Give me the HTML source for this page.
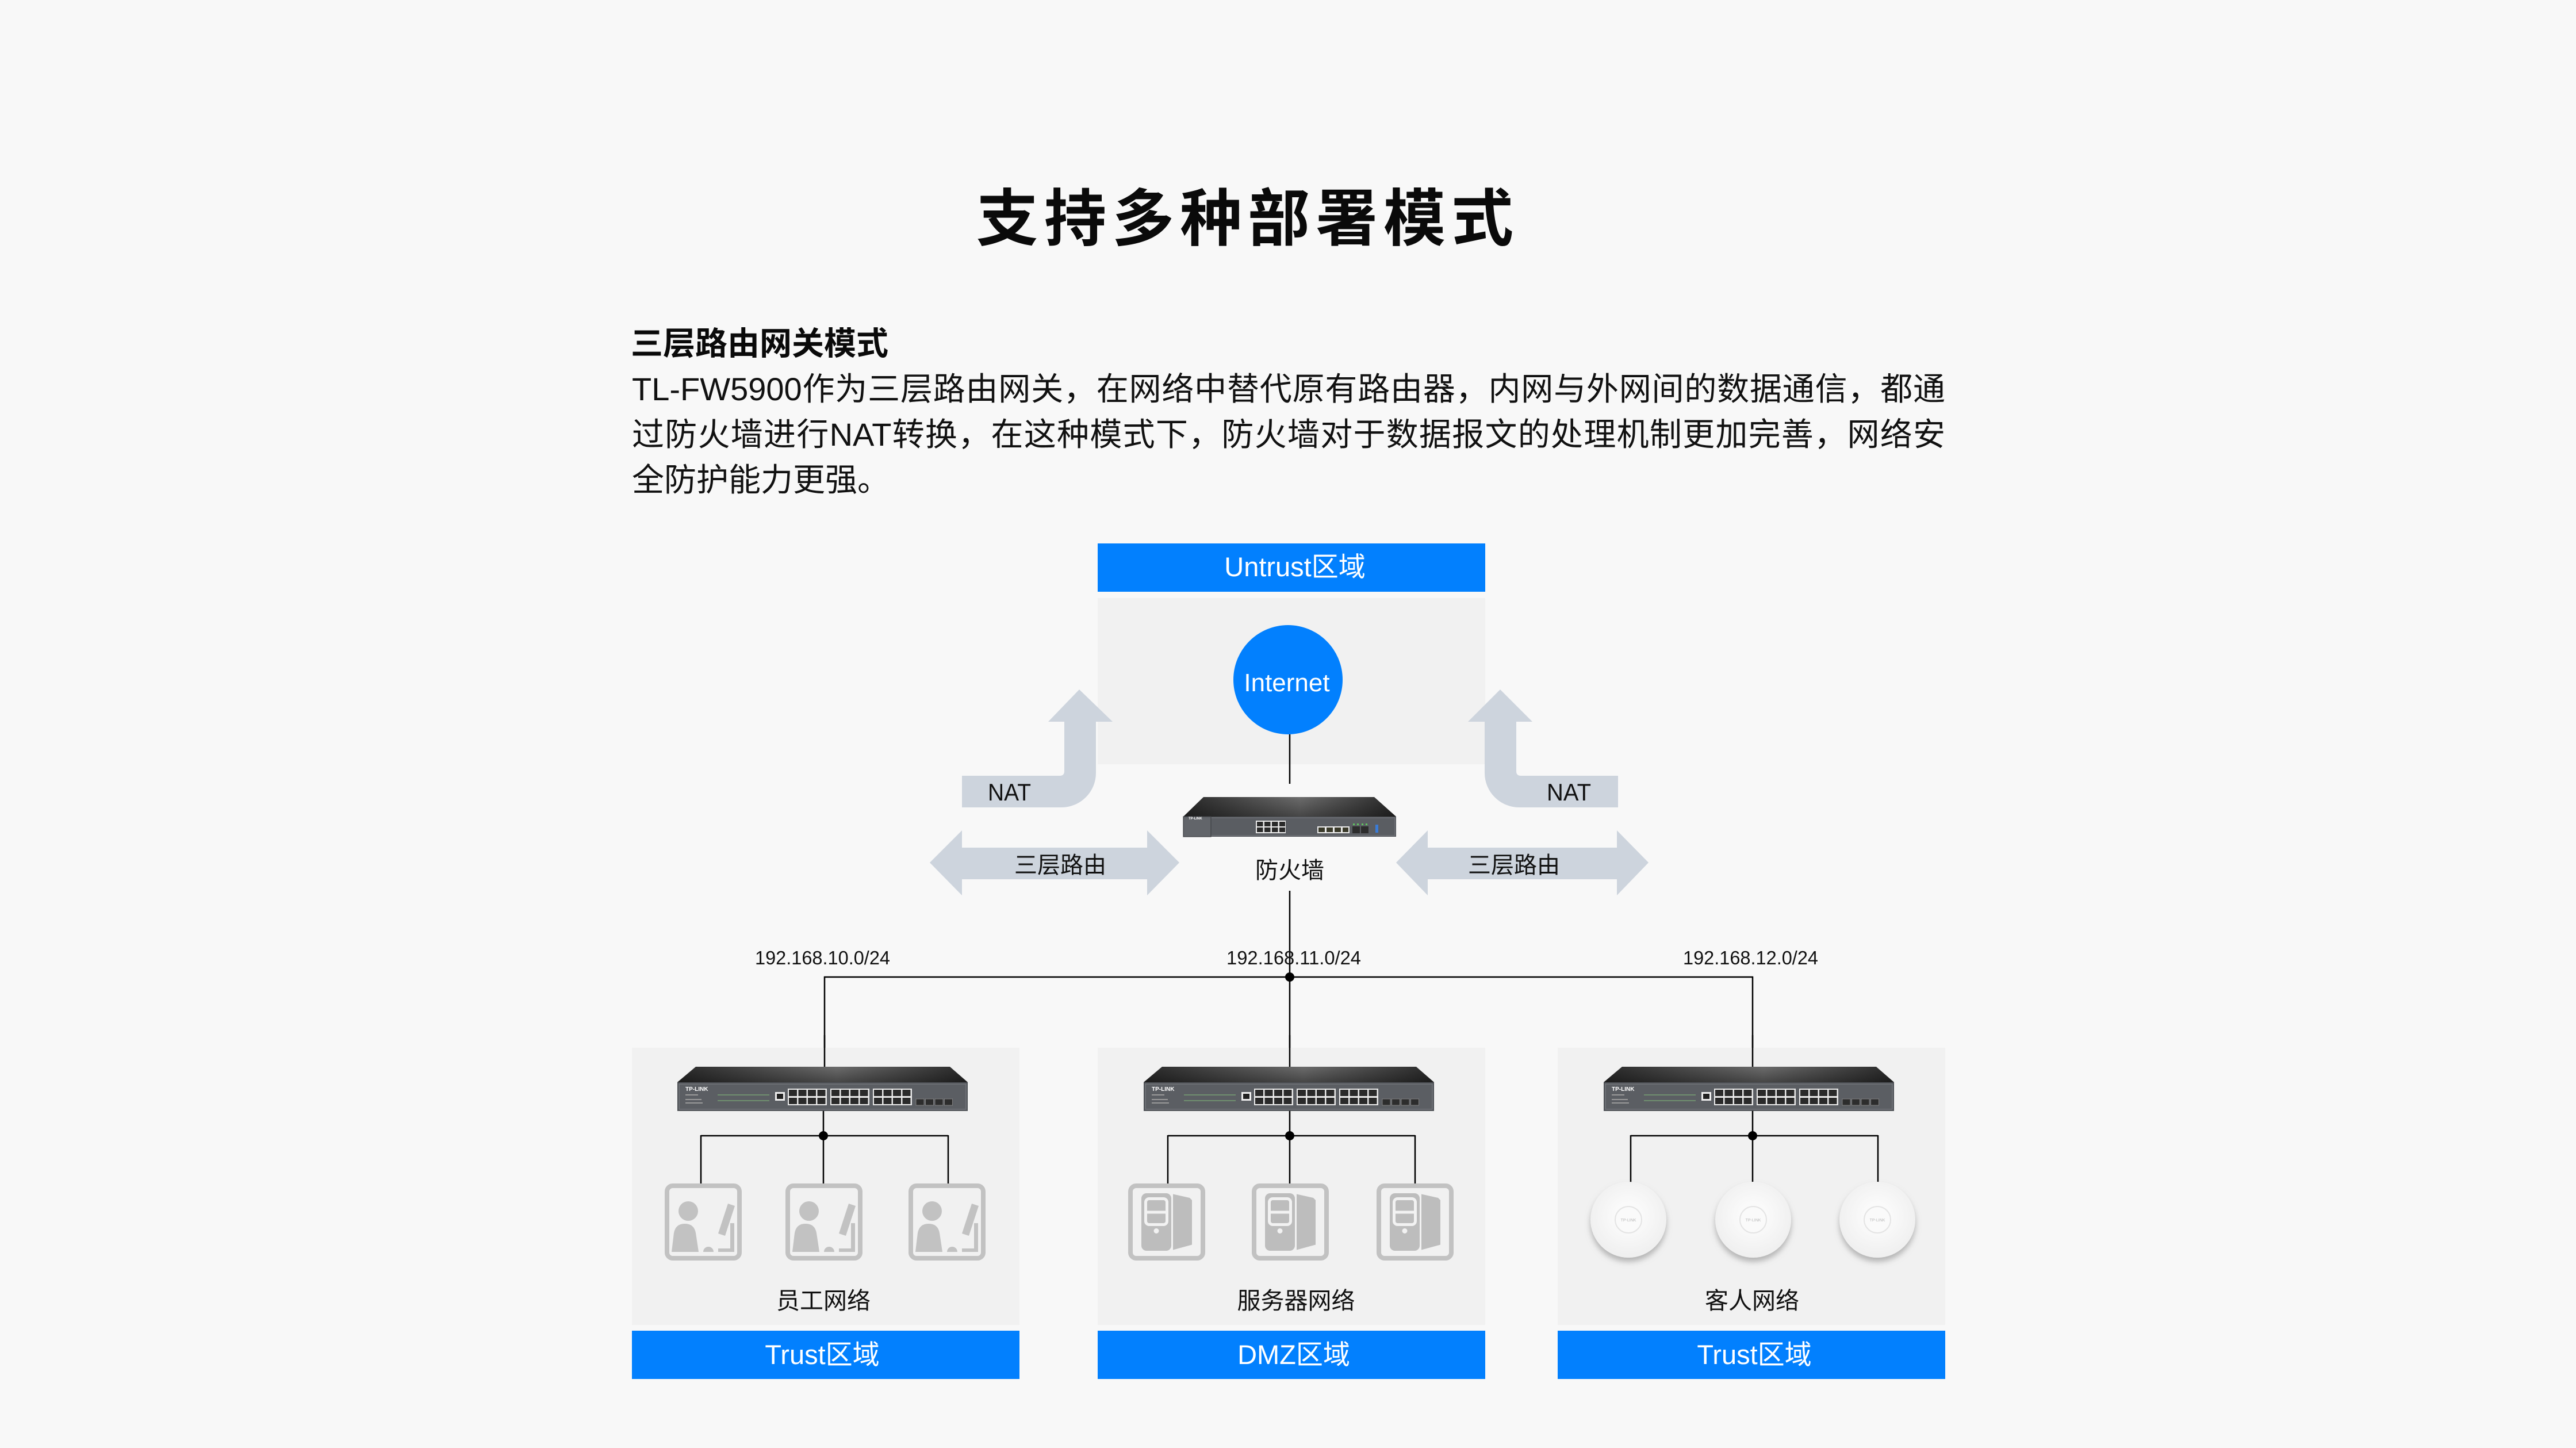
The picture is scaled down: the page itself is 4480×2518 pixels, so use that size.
<!DOCTYPE html>
<html>
<head>
<meta charset="utf-8">
<style>
  html, body { margin:0; padding:0; }
  body { width:4480px; height:2518px; background:#f8f8f8; position:relative; overflow:hidden;
         font-family:"Liberation Sans","Noto Sans CJK SC",sans-serif; color:#111; }
  .title { position:absolute; left:1698px; top:316px; height:130px; line-height:130px; font-size:108px;
           font-weight:700; letter-spacing:10px; white-space:nowrap; color:#0a0a0a; }
  .sub { position:absolute; left:1097px; top:563px; height:70px; line-height:70px; font-size:56px;
         font-weight:700; white-space:nowrap; color:#0a0a0a; }
  .p { position:absolute; left:1099px; width:2284px; height:79px; line-height:79px; font-size:56px;
       color:#111; text-align:justify; text-align-last:justify; }
  .p.last { text-align:left; text-align-last:left; }
  svg { position:absolute; left:0; top:0; }
</style>
</head>
<body>
<div class="title">支持多种部署模式</div>
<div class="sub">三层路由网关模式</div>
<div class="p" style="top:637px">TL-FW5900作为三层路由网关，在网络中替代原有路由器，内网与外网间的数据通信，都通</div>
<div class="p" style="top:716px">过防火墙进行NAT转换，在这种模式下，防火墙对于数据报文的处理机制更加完善，网络安</div>
<div class="p last" style="top:795px">全防护能力更强。</div>

<svg width="4480" height="2518" viewBox="0 0 4480 2518" xmlns="http://www.w3.org/2000/svg">
  <defs>
    <linearGradient id="tg" x1="0" x2="1" y1="0" y2="0">
      <stop offset="0" stop-color="#2a2a2a"/>
      <stop offset="0.55" stop-color="#6c6c6c"/>
      <stop offset="1" stop-color="#2a2a2a"/>
    </linearGradient>
    <linearGradient id="tv" x1="0" y1="0" x2="0" y2="1">
      <stop offset="0" stop-color="#000" stop-opacity="0"/>
      <stop offset="1" stop-color="#000" stop-opacity="0.35"/>
    </linearGradient>
    <radialGradient id="apg" cx="0.5" cy="0.45" r="0.55">
      <stop offset="0" stop-color="#ffffff"/>
      <stop offset="1" stop-color="#efefef"/>
    </radialGradient>
    <filter id="sh" x="-30%" y="-30%" width="160%" height="170%">
      <feDropShadow dx="0" dy="7" stdDeviation="5" flood-color="#8a8a8a" flood-opacity="0.6"/>
    </filter>

    <g id="pg">
      <rect x="0" y="0" width="68" height="29" fill="#e9e9e9"/>
      <rect x="2" y="2" width="14" height="11" fill="#2a2a2a"/>
      <rect x="18.5" y="2" width="14" height="11" fill="#2a2a2a"/>
      <rect x="35" y="2" width="14" height="11" fill="#2a2a2a"/>
      <rect x="51.5" y="2" width="14" height="11" fill="#2a2a2a"/>
      <rect x="2" y="16" width="14" height="11" fill="#2a2a2a"/>
      <rect x="18.5" y="16" width="14" height="11" fill="#2a2a2a"/>
      <rect x="35" y="16" width="14" height="11" fill="#2a2a2a"/>
      <rect x="51.5" y="16" width="14" height="11" fill="#2a2a2a"/>
    </g>

    <g id="sw">
      <polygon points="32,0 474,0 505,27 0,27" fill="url(#tg)"/>
      <polygon points="32,0 474,0 505,27 0,27" fill="url(#tv)"/>
      <rect x="0" y="27" width="505" height="50" fill="#4e5156"/>
      <rect x="3" y="30" width="499" height="44" fill="#5b5e63" stroke="#74777c" stroke-width="1.5"/>
      <use href="#pg" x="192" y="38"/>
      <use href="#pg" x="266" y="38"/>
      <use href="#pg" x="340" y="38"/>
      <rect x="170" y="44" width="17" height="15" fill="#eeeeee"/>
      <rect x="173" y="47" width="11" height="9" fill="#222"/>
      <rect x="415" y="56" width="14" height="11" fill="#2d2d2d" stroke="#808080" stroke-width="1"/>
      <rect x="431.5" y="56" width="14" height="11" fill="#2d2d2d" stroke="#808080" stroke-width="1"/>
      <rect x="448" y="56" width="14" height="11" fill="#2d2d2d" stroke="#808080" stroke-width="1"/>
      <rect x="464.5" y="56" width="14" height="11" fill="#2d2d2d" stroke="#808080" stroke-width="1"/>
      <rect x="70" y="48" width="90" height="2" fill="#6f8f6f"/>
      <rect x="70" y="58" width="90" height="2" fill="#6f8f6f"/>
      <rect x="14" y="48" width="22" height="2" fill="#9a9a9a"/>
      <rect x="14" y="56" width="28" height="2" fill="#9a9a9a"/>
      <rect x="14" y="62" width="30" height="2" fill="#9a9a9a"/>
    </g>

    <g id="person">
      <rect x="4" y="4" width="126" height="126" rx="10" fill="none" stroke="#c2c2c2" stroke-width="8"/>
      <circle cx="41" cy="48" r="17" fill="#c2c2c2"/>
      <path d="M12,119 L16,86 Q19,70 35,70 Q51,70 54,86 L59,119 Z" fill="#c2c2c2"/>
      <path d="M67,119 A9,9 0 0 1 85,119 Z" fill="#c2c2c2"/>
      <polygon points="110,35 122,39 105,91 93,87" fill="#c2c2c2"/>
      <path d="M114,69 H121 V119 H93 V113 H114 Z" fill="#c2c2c2"/>
    </g>

    <g id="server">
      <rect x="4" y="4" width="126" height="126" rx="10" fill="none" stroke="#c2c2c2" stroke-width="8"/>
      <rect x="23" y="17" width="52" height="100" rx="9" fill="#bdbdbd"/>
      <rect x="30.5" y="26.5" width="37" height="45" rx="6" fill="none" stroke="#f2f2f2" stroke-width="5"/>
      <line x1="30" y1="50" x2="68" y2="50" stroke="#f2f2f2" stroke-width="5"/>
      <circle cx="49" cy="82.5" r="4.5" fill="#f2f2f2"/>
      <polygon points="78,18.5 107,25 111,29 111,106.5 78,115.5" fill="#bdbdbd"/>
    </g>
  </defs>

  <!-- Untrust zone -->
  <rect x="1909" y="945" width="674" height="84" fill="#0280fe"/>
  <rect x="1909" y="1040" width="674" height="289" fill="#f1f1f1"/>
  <text x="2252" y="1002" font-size="47" fill="#ffffff" text-anchor="middle" font-family="Liberation Sans, Noto Sans CJK SC, sans-serif">Untrust区域</text>

  <!-- Internet -->
  <circle cx="2240" cy="1182" r="95" fill="#0280fe"/>
  <text x="2238" y="1202" font-size="44" fill="#ffffff" text-anchor="middle" font-family="Liberation Sans, Noto Sans CJK SC, sans-serif">Internet</text>
  <line x1="2243" y1="1277" x2="2243" y2="1363" stroke="#000" stroke-width="2.5"/>

  <!-- NAT arrows -->
  <path d="M1673,1349 L1843,1349 Q1851,1349 1851,1341 L1851,1255 L1823,1255 L1877,1199 L1935,1255 L1906,1255 L1906,1344 A60,60 0 0 1 1846,1404 L1673,1404 Z" fill="#cdd4dd"/>
  <path d="M2814,1349 L2645,1349 Q2637,1349 2637,1341 L2637,1255 L2665,1255 L2609,1199 L2553,1255 L2582,1255 L2582,1344 A60,60 0 0 0 2642,1404 L2814,1404 Z" fill="#cdd4dd"/>
  <text x="1718" y="1392" font-size="42" fill="#111" textLength="75" lengthAdjust="spacingAndGlyphs" font-family="Liberation Sans, Noto Sans CJK SC, sans-serif">NAT</text>
  <text x="2690" y="1392" font-size="42" fill="#111" textLength="77" lengthAdjust="spacingAndGlyphs" font-family="Liberation Sans, Noto Sans CJK SC, sans-serif">NAT</text>

  <!-- Double arrows -->
  <path d="M1617,1500 L1673,1444 L1673,1474 L1995,1474 L1995,1444 L2051,1500 L1995,1557 L1995,1529 L1673,1529 L1673,1557 Z" fill="#cdd4dd"/>
  <path d="M2428,1500 L2483,1444 L2483,1474 L2812,1474 L2812,1444 L2867,1500 L2812,1557 L2812,1529 L2483,1529 L2483,1557 Z" fill="#cdd4dd"/>
  <text x="1764" y="1518" font-size="40" fill="#111" font-family="Liberation Sans, Noto Sans CJK SC, sans-serif">三层路由</text>
  <text x="2553" y="1518" font-size="40" fill="#111" font-family="Liberation Sans, Noto Sans CJK SC, sans-serif">三层路由</text>

  <!-- Firewall -->
  <g transform="translate(2058,1386)">
    <polygon points="35,0 332,0 370,34 0,34" fill="url(#tg)"/>
    <polygon points="35,0 332,0 370,34 0,34" fill="url(#tv)"/>
    <rect x="0" y="34" width="370" height="35" fill="#4f5257"/>
    <rect x="2" y="36" width="366" height="31" fill="#5a5d62" stroke="#74777c" stroke-width="1.2"/>
    <rect x="0" y="34" width="48" height="35" fill="#62656a" stroke="#3e4044" stroke-width="1.2"/>
    <rect x="126" y="41" width="52" height="22" fill="#e9e9e9"/>
    <rect x="128" y="43" width="10.5" height="8" fill="#2a2a2a"/>
    <rect x="141" y="43" width="10.5" height="8" fill="#2a2a2a"/>
    <rect x="154" y="43" width="10.5" height="8" fill="#2a2a2a"/>
    <rect x="167" y="43" width="10" height="8" fill="#2a2a2a"/>
    <rect x="128" y="53" width="10.5" height="8" fill="#2a2a2a"/>
    <rect x="141" y="53" width="10.5" height="8" fill="#2a2a2a"/>
    <rect x="154" y="53" width="10.5" height="8" fill="#2a2a2a"/>
    <rect x="167" y="53" width="10" height="8" fill="#2a2a2a"/>
    <rect x="233" y="51" width="56" height="12" fill="#e9e9e9"/>
    <rect x="235" y="53" width="11" height="8" fill="#3a3a2a"/>
    <rect x="249" y="53" width="11" height="8" fill="#3a3a2a"/>
    <rect x="263" y="53" width="11" height="8" fill="#3a3a2a"/>
    <rect x="277" y="53" width="10" height="8" fill="#3a3a2a"/>
    <rect x="294" y="51" width="13" height="12" fill="#2d2d2d"/>
    <rect x="309" y="51" width="13" height="12" fill="#2d2d2d"/>
    <rect x="334" y="48" width="5" height="14" fill="#3a7bd5"/>
    <rect x="295" y="46" width="3" height="3" fill="#5fc35f"/>
    <rect x="302" y="46" width="3" height="3" fill="#5fc35f"/>
    <rect x="310" y="46" width="3" height="3" fill="#5fc35f"/>
    <rect x="317" y="46" width="3" height="3" fill="#5fc35f"/>
  </g>
  <text x="2067" y="1425" font-size="6" font-weight="700" fill="#ffffff" font-family="Liberation Sans, sans-serif">TP-LINK</text>
  <text x="2243" y="1527" font-size="40" fill="#111" text-anchor="middle" font-family="Liberation Sans, Noto Sans CJK SC, sans-serif">防火墙</text>

  <!-- Connectors top -->
  <line x1="2243" y1="1549" x2="2243" y2="1855" stroke="#000" stroke-width="2.5"/>
  <line x1="1433" y1="1699" x2="3049" y2="1699" stroke="#000" stroke-width="2.5"/>
  <line x1="1434" y1="1698" x2="1434" y2="1855" stroke="#000" stroke-width="2.5"/>
  <line x1="3048" y1="1698" x2="3048" y2="1855" stroke="#000" stroke-width="2.5"/>
  <circle cx="2243" cy="1699" r="8" fill="#000"/>

  <!-- IP labels -->
  <text x="1313" y="1677" font-size="33" fill="#111" textLength="235" lengthAdjust="spacingAndGlyphs" font-family="Liberation Sans, sans-serif">192.168.10.0/24</text>
  <text x="2133" y="1677" font-size="33" fill="#111" textLength="234" lengthAdjust="spacingAndGlyphs" font-family="Liberation Sans, sans-serif">192.168.11.0/24</text>
  <text x="2927" y="1677" font-size="33" fill="#111" textLength="235" lengthAdjust="spacingAndGlyphs" font-family="Liberation Sans, sans-serif">192.168.12.0/24</text>

  <!-- Bottom zone boxes -->
  <rect x="1099" y="1822" width="674" height="482" fill="#f1f1f1"/>
  <rect x="1909" y="1822" width="674" height="482" fill="#f1f1f1"/>
  <rect x="2709" y="1822" width="674" height="482" fill="#f1f1f1"/>
  <rect x="1099" y="2314" width="674" height="84" fill="#0280fe"/>
  <rect x="1909" y="2314" width="674" height="84" fill="#0280fe"/>
  <rect x="2709" y="2314" width="674" height="84" fill="#0280fe"/>
  <text x="1430" y="2372" font-size="47" fill="#ffffff" text-anchor="middle" font-family="Liberation Sans, Noto Sans CJK SC, sans-serif">Trust区域</text>
  <text x="2250" y="2372" font-size="47" fill="#ffffff" text-anchor="middle" font-family="Liberation Sans, Noto Sans CJK SC, sans-serif">DMZ区域</text>
  <text x="3051" y="2372" font-size="47" fill="#ffffff" text-anchor="middle" font-family="Liberation Sans, Noto Sans CJK SC, sans-serif">Trust区域</text>

  <!-- re-draw vertical connectors over box tops -->
  <line x1="1434" y1="1800" x2="1434" y2="1855" stroke="#000" stroke-width="2.5"/>
  <line x1="2243" y1="1800" x2="2243" y2="1855" stroke="#000" stroke-width="2.5"/>
  <line x1="3048" y1="1800" x2="3048" y2="1855" stroke="#000" stroke-width="2.5"/>

  <!-- Switches -->
  <use href="#sw" x="1178" y="1855"/>
  <use href="#sw" x="1989" y="1855"/>
  <use href="#sw" x="2789" y="1855"/>
  <text x="1192" y="1897" font-size="10" font-weight="700" fill="#ffffff" font-family="Liberation Sans, sans-serif">TP-LINK</text>
  <text x="2003" y="1897" font-size="10" font-weight="700" fill="#ffffff" font-family="Liberation Sans, sans-serif">TP-LINK</text>
  <text x="2803" y="1897" font-size="10" font-weight="700" fill="#ffffff" font-family="Liberation Sans, sans-serif">TP-LINK</text>

  <!-- Branch connectors -->
  <g stroke="#000" stroke-width="2.5" fill="none">
    <line x1="1432" y1="1932" x2="1432" y2="2058"/>
    <line x1="1219" y1="1975" x2="1649" y2="1975"/>
    <line x1="1219" y1="1974" x2="1219" y2="2058"/>
    <line x1="1649" y1="1974" x2="1649" y2="2058"/>

    <line x1="2243" y1="1932" x2="2243" y2="2058"/>
    <line x1="2031" y1="1975" x2="2461" y2="1975"/>
    <line x1="2031" y1="1974" x2="2031" y2="2058"/>
    <line x1="2461" y1="1974" x2="2461" y2="2058"/>

    <line x1="3048" y1="1932" x2="3048" y2="2056"/>
    <line x1="2836" y1="1975" x2="3266" y2="1975"/>
    <line x1="2836" y1="1974" x2="2836" y2="2056"/>
    <line x1="3266" y1="1974" x2="3266" y2="2056"/>
  </g>
  <circle cx="1432" cy="1975" r="8" fill="#000"/>
  <circle cx="2243" cy="1975" r="8" fill="#000"/>
  <circle cx="3048" cy="1975" r="8" fill="#000"/>

  <!-- Person icons -->
  <use href="#person" x="1156" y="2058"/>
  <use href="#person" x="1366" y="2058"/>
  <use href="#person" x="1580" y="2058"/>

  <!-- Server icons -->
  <use href="#server" x="1962" y="2058"/>
  <use href="#server" x="2177" y="2058"/>
  <use href="#server" x="2394" y="2058"/>

  <!-- APs -->
  <g>
    <circle cx="2832" cy="2121" r="66" fill="url(#apg)" filter="url(#sh)"/>
    <circle cx="2832" cy="2121" r="23" fill="#fafafa" stroke="#e4e4e4" stroke-width="2"/>
    <circle cx="3049" cy="2121" r="66" fill="url(#apg)" filter="url(#sh)"/>
    <circle cx="3049" cy="2121" r="23" fill="#fafafa" stroke="#e4e4e4" stroke-width="2"/>
    <circle cx="3265" cy="2121" r="66" fill="url(#apg)" filter="url(#sh)"/>
    <circle cx="3265" cy="2121" r="23" fill="#fafafa" stroke="#e4e4e4" stroke-width="2"/>
  </g>
  <text x="2832" y="2124" font-size="7" fill="#b8b8b8" text-anchor="middle" font-family="Liberation Sans, sans-serif">TP-LINK</text>
  <text x="3049" y="2124" font-size="7" fill="#b8b8b8" text-anchor="middle" font-family="Liberation Sans, sans-serif">TP-LINK</text>
  <text x="3265" y="2124" font-size="7" fill="#b8b8b8" text-anchor="middle" font-family="Liberation Sans, sans-serif">TP-LINK</text>

  <!-- Network labels -->
  <text x="1432" y="2276" font-size="41" fill="#111" text-anchor="middle" font-family="Liberation Sans, Noto Sans CJK SC, sans-serif">员工网络</text>
  <text x="2254" y="2276" font-size="41" fill="#111" text-anchor="middle" font-family="Liberation Sans, Noto Sans CJK SC, sans-serif">服务器网络</text>
  <text x="3047" y="2276" font-size="41" fill="#111" text-anchor="middle" font-family="Liberation Sans, Noto Sans CJK SC, sans-serif">客人网络</text>
</svg>
</body>
</html>
